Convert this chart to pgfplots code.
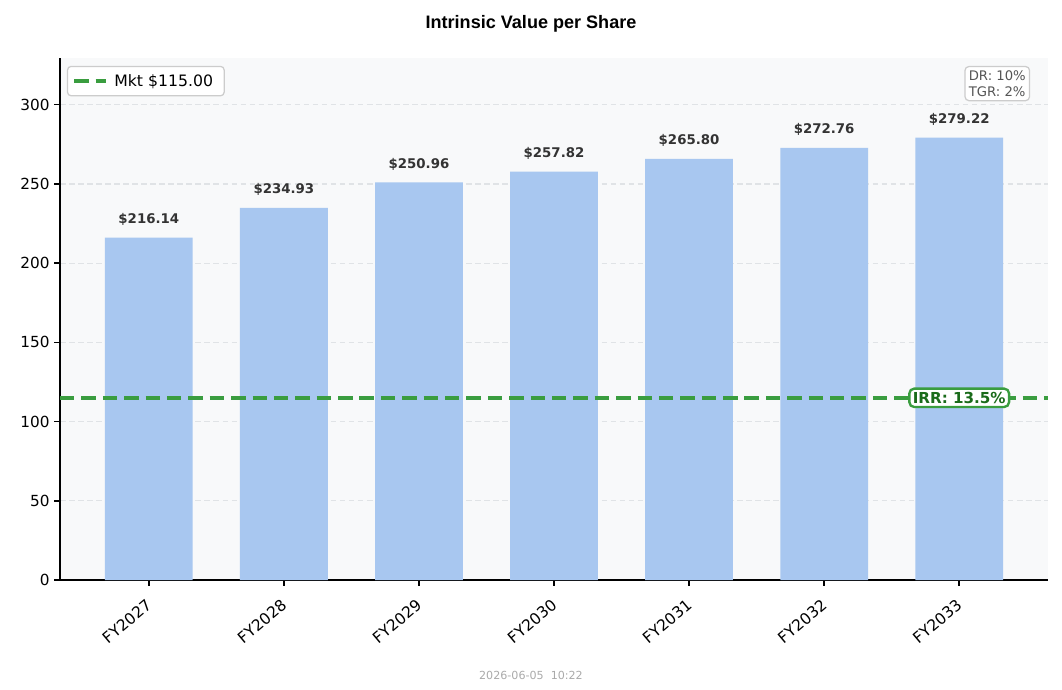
\documentclass[border=0pt]{standalone}
\usepackage{pgfplots}
\pgfplotsset{compat=1.18}
\usepackage{fontspec}
\setmainfont{DejaVu Sans}
\newfontfamily\titlefont{Liberation Sans}
\definecolor{barblue}{HTML}{A8C7F0}
\definecolor{mktgreen}{HTML}{3A9D3F}
\definecolor{irrgreen}{HTML}{1A6B1A}
\definecolor{gridgray}{HTML}{E0E3E6}
\definecolor{bgcol}{HTML}{F8F9FA}
\definecolor{labgray}{HTML}{333333}
\definecolor{boxgray}{HTML}{CCCCCC}
\definecolor{drgray}{HTML}{555555}
\definecolor{tsgray}{HTML}{AAAAAA}
\pgfplotstableread{
x y lab
0 216.14 216.14
1 234.93 234.93
2 250.96 250.96
3 257.82 257.82
4 265.80 265.80
5 272.76 272.76
6 279.22 279.22
}\ivtable
\begin{document}
\begin{tikzpicture}
\useasboundingbox (0,0) rectangle (764.64pt,496.08pt);
\begin{axis}[
 at={(43.2pt,78.48pt)}, anchor=south west,
 scale only axis, width=711.36pt, height=375.84pt,
 xmin=-0.6575, xmax=6.6575, ymin=0, ymax=329.5,
 axis x line*=bottom, axis y line*=left,
 axis line style={black, line width=1.2pt},
 xtick={0,...,6},
 xticklabels={FY2027,FY2028,FY2029,FY2030,FY2031,FY2032,FY2033},
 ytick={0,50,...,300},
 tick style={black, line width=1.1pt},
 tick align=outside, major tick length=4.3pt,
 xticklabel style={rotate=40, anchor=north east, font=\fontsize{11.2}{13}\selectfont, inner sep=2pt, xshift=-5.5pt, yshift=-3pt},
 yticklabel style={font=\fontsize{11}{13}\selectfont, inner sep=3pt},
 /pgf/number format/assume math mode=true,
 ymajorgrids, grid style={dash pattern=on 4pt off 2.5pt, color=gridgray, line width=0.9pt},
 axis background/.style={fill=bgcol},
 legend style={at={(0.007,0.985)}, anchor=north west, draw=boxgray, rounded corners=2.5pt, fill=white, font=\fontsize{11.3}{13}\selectfont, inner sep=3.5pt, line width=0.9pt,
   nodes={inner xsep=4.5pt}},
 legend image code/.code={\draw[#1] (0pt,0pt) -- (23pt,0pt);},
]
\addplot[ybar, bar width=0.65, bar shift=0pt, fill=barblue, draw=none, forget plot,
  point meta=explicit symbolic,
  nodes near coords={\$\pgfplotspointmeta},
  every node near coord/.append style={font=\bfseries\fontsize{9.6}{11}\selectfont, text=labgray, anchor=south, inner sep=0pt, yshift=8.5pt}]
  table[x=x, y=y, meta=lab] {\ivtable};
\addplot[mktgreen, line width=2.7pt, dash pattern=on 10.4pt off 5pt] coordinates {(-0.6575,115) (6.6575,115)};
\addlegendentry{Mkt \$115.00}
\node[draw=mktgreen, line width=1.7pt, fill=white, rounded corners=3.5pt, inner sep=2.5pt, text=irrgreen, font=\bfseries\fontsize{10.9}{12}\selectfont] at (axis cs:6,115) {IRR: 13.5\%};
\node[draw=boxgray, line width=0.9pt, fill=white, rounded corners=3pt, inner xsep=2.8pt, inner ysep=3pt, align=left, anchor=north east, text=drgray, font=\fontsize{9.5}{11.5}\selectfont] at (rel axis cs:0.982,0.985) {DR: 10\%\\TGR: 2\%};
\end{axis}
\node at (382.32pt,478.8pt) {\titlefont\bfseries\fontsize{13}{15}\selectfont Intrinsic Value per Share};
\node[text=tsgray] at (382.32pt,10.08pt) {\fontsize{8}{9}\selectfont 2026-06-05\ \ 10:22};
\end{tikzpicture}
\end{document}
